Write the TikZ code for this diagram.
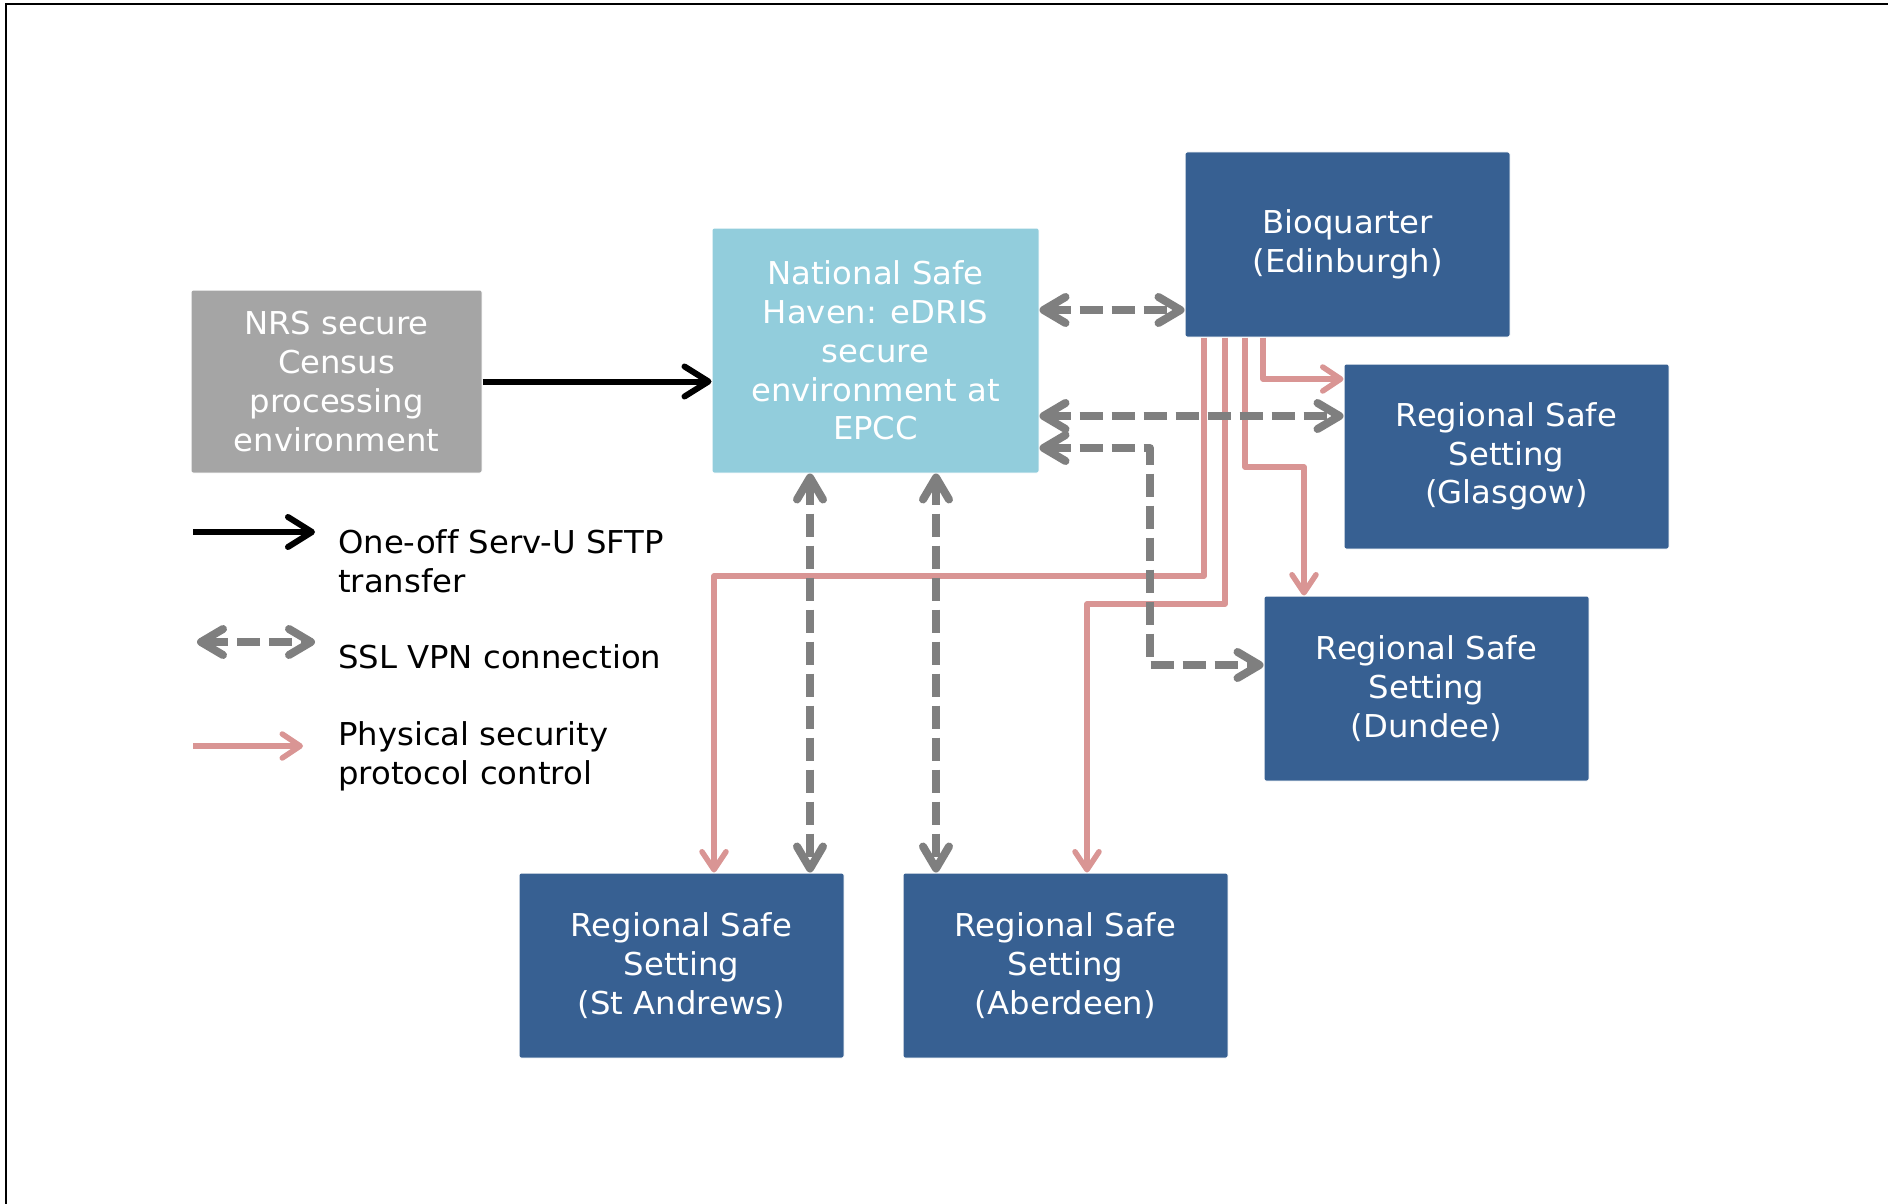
\documentclass[tikz,border=0pt]{standalone}
\usepackage{fontspec}
\setmainfont[FakeStretch=1.025, Ligatures=NoCommon]{DejaVu Sans}
\usetikzlibrary{arrows.meta,calc}
\definecolor{nrsgray}{HTML}{A5A5A5}
\definecolor{nshblue}{HTML}{92CDDC}
\definecolor{darkblue}{HTML}{376092}
\definecolor{arrgray}{HTML}{7F7F7F}
\definecolor{pinkline}{HTML}{D99594}
\tikzset{
  box/.style={rectangle, rounded corners=2pt, draw=white, line width=1pt, text=white,
    align=center, inner sep=0pt, font=\fontsize{31.5}{38.8}\selectfont},
  stdbox/.style={box, fill=darkblue, minimum width=325pt, minimum height=185pt},
  blackarr/.style={line width=6pt, black, -{Straight Barb[length=24pt, width=30pt, line cap=round, line join=round]}},
  vpn/.style={line width=8pt, arrgray, dash pattern=on 23pt off 9pt, line join=round,
    {Straight Barb[length=22pt, width=26pt, line cap=round, line join=round]}-{Straight Barb[length=22pt, width=26pt, line cap=round, line join=round]}},
  phys/.style={line width=5.5pt, pinkline, line join=round, -{Straight Barb[length=18pt, width=24pt, line cap=round, line join=round]}},
  legtext/.style={anchor=west, align=left, inner sep=0pt, font=\fontsize{31.5}{38.8}\selectfont}
}
\begin{document}
\begin{tikzpicture}[x=1pt, y=-1pt]
\useasboundingbox (0,0) rectangle (1888,1204);
% partial frame
\draw[line width=2.5pt] (6,1204) -- (6,4) -- (1888,4);

% nodes
\node[box, fill=nrsgray, minimum width=291pt, minimum height=183pt] (nrs) at (336.5,381.5)
  {NRS secure\\Census\\processing\\environment};
\node[box, fill=nshblue, minimum width=327pt, minimum height=245pt] (nsh) at (875.5,350.5)
  {National Safe\\Haven: eDRIS\\secure\\environment at\\EPCC};
\node[stdbox] (bio) at (1347.5,244.5) {Bioquarter\\(Edinburgh)};
\node[stdbox] (gla) at (1506.5,456.5) {Regional Safe\\Setting\\(Glasgow)};
\node[stdbox] (dun) at (1426.5,688.5) {Regional Safe\\Setting\\(Dundee)};
\node[stdbox] (sta) at (681.5,965.5) {Regional Safe\\Setting\\(St Andrews)};
\node[stdbox] (abe) at (1065.5,965.5) {Regional Safe\\Setting\\(Aberdeen)};

% physical security lines
\draw[phys] (bio.south -| 1204,0) -- (1204,576) -- (714,576) -- (sta.north -| 714,0);
\draw[phys] (bio.south -| 1225,0) -- (1225,604) -- (1087,604) -- (abe.north -| 1087,0);
\draw[phys] (bio.south -| 1245,0) -- (1245,467) -- (1304,467) -- (dun.north -| 1304,0);
\draw[phys] (bio.south -| 1263,0) -- (1263,379) -- (gla.west |- 0,379);

% SFTP transfer
\draw[blackarr] (nrs.east) -- (nsh.west |- nrs.east);

% VPN connections
\draw[vpn] (nsh.east |- 0,310) -- (bio.west |- 0,310);
\draw[vpn] (nsh.east |- 0,416) -- (gla.west |- 0,416);
\draw[vpn] (nsh.east |- 0,448) -- (1150,448) -- (1150,665) -- (dun.west |- 0,665);
\draw[vpn] (nsh.south -| 810,0) -- (sta.north -| 810,0);
\draw[vpn] (nsh.south -| 936,0) -- (abe.north -| 936,0);

% legend
\coordinate (l1a) at (193,532); \coordinate (l1b) at (315,532);
\coordinate (l2a) at (197,642); \coordinate (l2b) at (315,642);
\coordinate (l3a) at (193,746); \coordinate (l3b) at (303,746);
\draw[blackarr] (l1a) -- (l1b);
\draw[vpn] (l2a) -- (l2b);
\draw[phys] (l3a) -- (l3b);
\node[legtext] (t1) at (338,561) {One-off Serv-U SFTP\\transfer};
\node[legtext] (t2) at (338,657) {SSL VPN connection};
\node[legtext] (t3) at (338,756) {Physical security\\protocol control};
\end{tikzpicture}
\end{document}
